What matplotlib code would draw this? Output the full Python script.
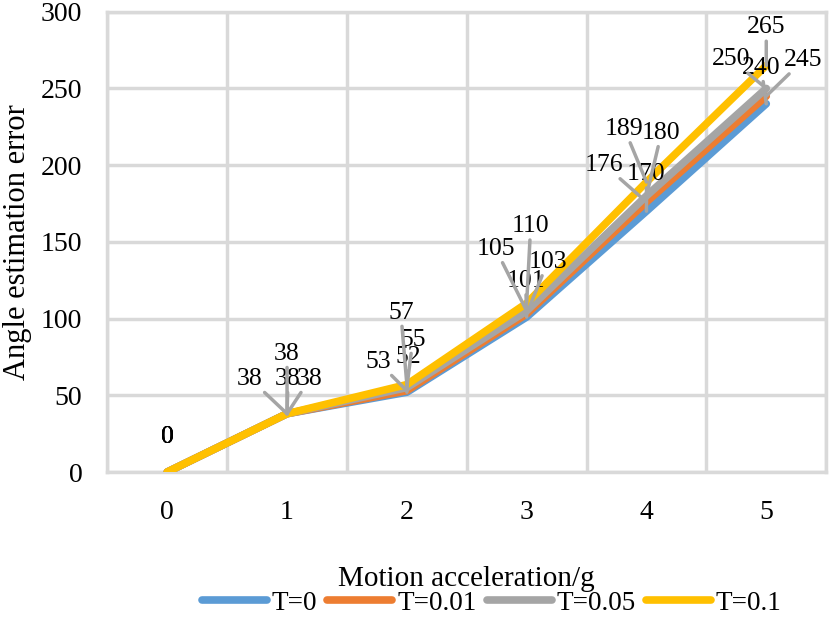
import numpy as np
import matplotlib.pyplot as plt

plt.rcParams['font.family'] = ['Liberation Serif', 'DejaVu Serif']

# data
accel = [0, 1, 2, 3, 4, 5]
series_names = ['T=0', 'T=0.01', 'T=0.05', 'T=0.1']
err_t0 = [0, 38, 52, 101, 170, 240]
err_t001 = [0, 38, 53, 103, 176, 245]
err_t005 = [0, 38, 55, 105, 180, 250]
err_t01 = [0, 38, 57, 110, 189, 265]
colors = ['#5B9BD5', '#ED7D31', '#A5A5A5', '#FFC000']

# label offsets in pixels (dx, dy) for each series / point
offsets = [
    [(0, 35), (-37, 35), (1, 35), (-1, 36), (0, 37), (-5, 36)],
    [(0, 35), (1, 35), (-29, 29), (21, 52), (-42, 37), (37, 36)],
    [(0, 35), (23, 35), (6, 48), (-31, 62), (15, 63), (-35, 29)],
    [(0, 35), (0, 60), (-6, 72), (4, 77), (-22, 53), (0, 38)],
]

fig = plt.figure(figsize=(8.32, 6.17), dpi=100)
ax = fig.add_axes([0.129, 0.235, 0.864, 0.746])

all_series = [err_t0, err_t001, err_t005, err_t01]
for name, vals, c in zip(series_names, all_series, colors):
    ax.plot(accel, vals, color=c, lw=5.5, solid_capstyle='round',
            solid_joinstyle='round', label=name, zorder=3)

for vals, offs in zip(all_series, offsets):
    for x, v, (dx, dy) in zip(accel, vals, offs):
        arrow = None
        if x > 0:
            arrow = dict(arrowstyle='-', color='#A5A5A5', lw=2.5, shrinkA=0, shrinkB=0)
        ax.annotate(str(v), (x, v), xytext=(dx, dy), textcoords='offset pixels',
                    ha='center', va='center', fontsize=18.5, zorder=5,
                    arrowprops=arrow)

ax.set_xlim(-0.5, 5.5)
ax.set_ylim(0, 300)
ax.set_yticks(np.arange(0, 301, 50))
ax.set_xticks(accel)
ax.set_xticks(np.arange(-0.5, 5.6, 1), minor=True)
ax.grid(True, which='major', axis='y', color='#D9D9D9', lw=2.5)
ax.grid(True, which='minor', axis='x', color='#D9D9D9', lw=2.5)
ax.tick_params(which='both', length=0, labelsize=20)
ax.tick_params(axis='y', pad=18)
ax.tick_params(axis='x', pad=20)
for s in ax.spines.values():
    s.set_color('#D9D9D9')
    s.set_linewidth(2.5)
ax.set_axisbelow(True)

ax.set_xlabel('Motion acceleration/g', fontsize=21, labelpad=30)
ax.set_ylabel('Angle estimation error', fontsize=22, labelpad=6)

leg = fig.legend(loc='center', bbox_to_anchor=(0.591, 0.022), ncol=4, frameon=False,
                 fontsize=19.5, handlelength=2.4, handletextpad=0.18, columnspacing=0.37,
                 borderpad=0.1)

fig.savefig('out.png', dpi=100)
